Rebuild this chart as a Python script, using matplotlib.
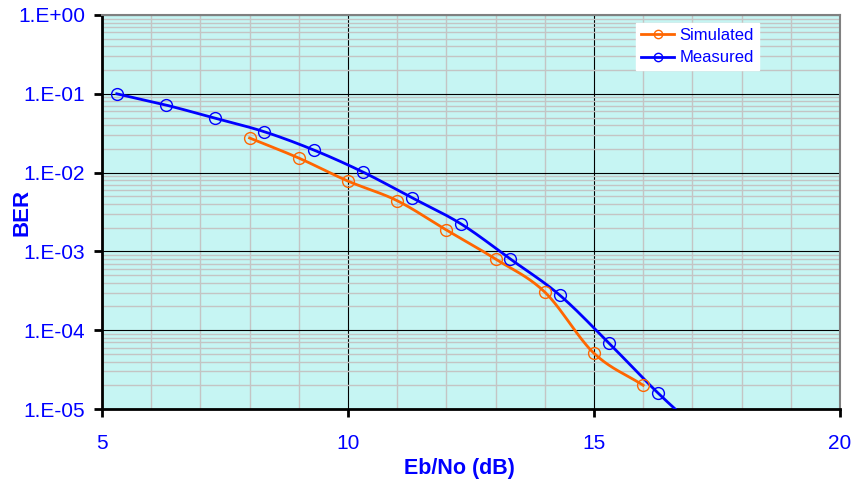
import numpy as np
import matplotlib
matplotlib.use("Agg")
import matplotlib.pyplot as plt
from matplotlib.ticker import FixedLocator, FuncFormatter, NullFormatter

plt.rcParams['font.family'] = ['Liberation Sans', 'DejaVu Sans']

# data
sim_ebno = [8, 9, 10, 11, 12, 13, 14, 15, 16]
sim_ber = [2.75e-2, 1.53e-2, 7.8e-3, 4.4e-3, 1.87e-3, 8.0e-4, 3.05e-4, 5.1e-5, 2.0e-5]

meas_ebno = [5.3, 6.3, 7.3, 8.3, 9.3, 10.3, 11.3, 12.3, 13.3, 14.3, 15.3, 16.3, 17.3]
meas_ber = [1.0e-1, 7.2e-2, 4.9e-2, 3.3e-2, 1.94e-2, 1.02e-2, 4.8e-3, 2.23e-3,
            8.0e-4, 2.8e-4, 6.9e-5, 1.6e-5, 4.3e-6]

xticks = [5, 10, 15, 20]
yticks = [1e-5, 1e-4, 1e-3, 1e-2, 1e-1, 1e0]

BLUE = "#0000FF"
ORANGE = "#FF6600"


def smooth(x, y, n=20):
    """Excel-like smoothed line (Catmull-Rom in log space)"""
    x = np.asarray(x, float)
    ly = np.log10(np.asarray(y, float))
    px = np.concatenate([[2 * x[0] - x[1]], x, [2 * x[-1] - x[-2]]])
    py = np.concatenate([[2 * ly[0] - ly[1]], ly, [2 * ly[-1] - ly[-2]]])
    xs, ys = [], []
    t = np.linspace(0, 1, n, endpoint=False)
    for i in range(1, len(px) - 2):
        for arr, out in ((px, xs), (py, ys)):
            p0, p1, p2, p3 = arr[i - 1:i + 3]
            out.extend(0.5 * ((2 * p1) + (-p0 + p2) * t
                              + (2 * p0 - 5 * p1 + 4 * p2 - p3) * t ** 2
                              + (-p0 + 3 * p1 - 3 * p2 + p3) * t ** 3))
    xs.append(x[-1])
    ys.append(ly[-1])
    return np.array(xs), 10 ** np.array(ys)


fig = plt.figure(figsize=(8.6, 4.79), dpi=100)
ax = fig.add_axes([0.1186, 0.1461, 0.8581, 0.8226])
ax.set_facecolor("#C6F5F3")

ax.set_xscale('linear')
ax.set_yscale('log')
ax.set_xlim(5, 20)
ax.set_ylim(1e-5, 1)

# grid
ax.xaxis.set_minor_locator(FixedLocator(np.arange(6, 20, 1)))
ax.yaxis.set_minor_locator(FixedLocator([m * 10.0 ** e for e in range(-5, 0) for m in range(2, 10)]))
ax.grid(True, which='minor', color='#C4C4C4', linewidth=1.0)
ax.grid(True, which='major', color='black', linewidth=0.8)
ax.set_axisbelow(True)

sx, sy = smooth(sim_ebno, sim_ber)
ax.plot(sx, sy, color=ORANGE, linewidth=2, zorder=3)
ax.plot(sim_ebno, sim_ber, linestyle='none', marker='o', markersize=8.5,
        markerfacecolor='none', markeredgecolor=ORANGE, markeredgewidth=1, zorder=4)

mx, my = smooth(meas_ebno, meas_ber)
ax.plot(mx, my, color=BLUE, linewidth=2, zorder=3)
ax.plot(meas_ebno, meas_ber, linestyle='none', marker='o', markersize=8.5,
        markerfacecolor='none', markeredgecolor=BLUE, markeredgewidth=1, zorder=4)

# legend handles
ax.plot([], [], color=ORANGE, linewidth=2, marker='o', markersize=6,
        markerfacecolor='none', markeredgewidth=1, label='Simulated')
ax.plot([], [], color=BLUE, linewidth=2, marker='o', markersize=6,
        markerfacecolor='none', markeredgewidth=1, label='Measured')
handles, labels = ax.get_legend_handles_labels()
leg = ax.legend(handles, labels, loc='upper left', bbox_to_anchor=(0.7236, 0.98),
                frameon=True, fancybox=False, framealpha=1, edgecolor='white',
                fontsize=12, handlelength=2.0, handletextpad=0.3,
                borderpad=0.3, labelspacing=0.45, borderaxespad=0)
for t in leg.get_texts():
    t.set_color(BLUE)

# ticks
ax.set_xticks(xticks)
ax.set_yticks(yticks)
ax.xaxis.set_major_formatter(FuncFormatter(lambda v, p: f"{v:g}"))
ax.yaxis.set_major_formatter(FuncFormatter(lambda v, p: "1.E%+03d" % int(round(np.log10(v)))))
ax.xaxis.set_minor_formatter(NullFormatter())
ax.yaxis.set_minor_formatter(NullFormatter())
ax.tick_params(which='major', direction='out', length=6, width=2, color='black',
               labelcolor=BLUE, labelsize=15)
ax.tick_params(axis='x', which='major', pad=12)
ax.tick_params(axis='y', which='major', pad=6)
ax.tick_params(which='minor', length=0)

for s in ['left', 'bottom']:
    ax.spines[s].set_linewidth(2)
    ax.spines[s].set_color('black')
for s in ['top', 'right']:
    ax.spines[s].set_linewidth(1.5)
    ax.spines[s].set_color('#808080')

ax.set_xlabel('Eb/No (dB)', color=BLUE, fontsize=15.5, fontweight='bold')
ax.set_ylabel('BER', color=BLUE, fontsize=16, fontweight='bold')
ax.xaxis.set_label_coords(0.485, -0.125)
ax.yaxis.set_label_coords(-0.094, 0.5)

fig.savefig('out.png', dpi=100)
